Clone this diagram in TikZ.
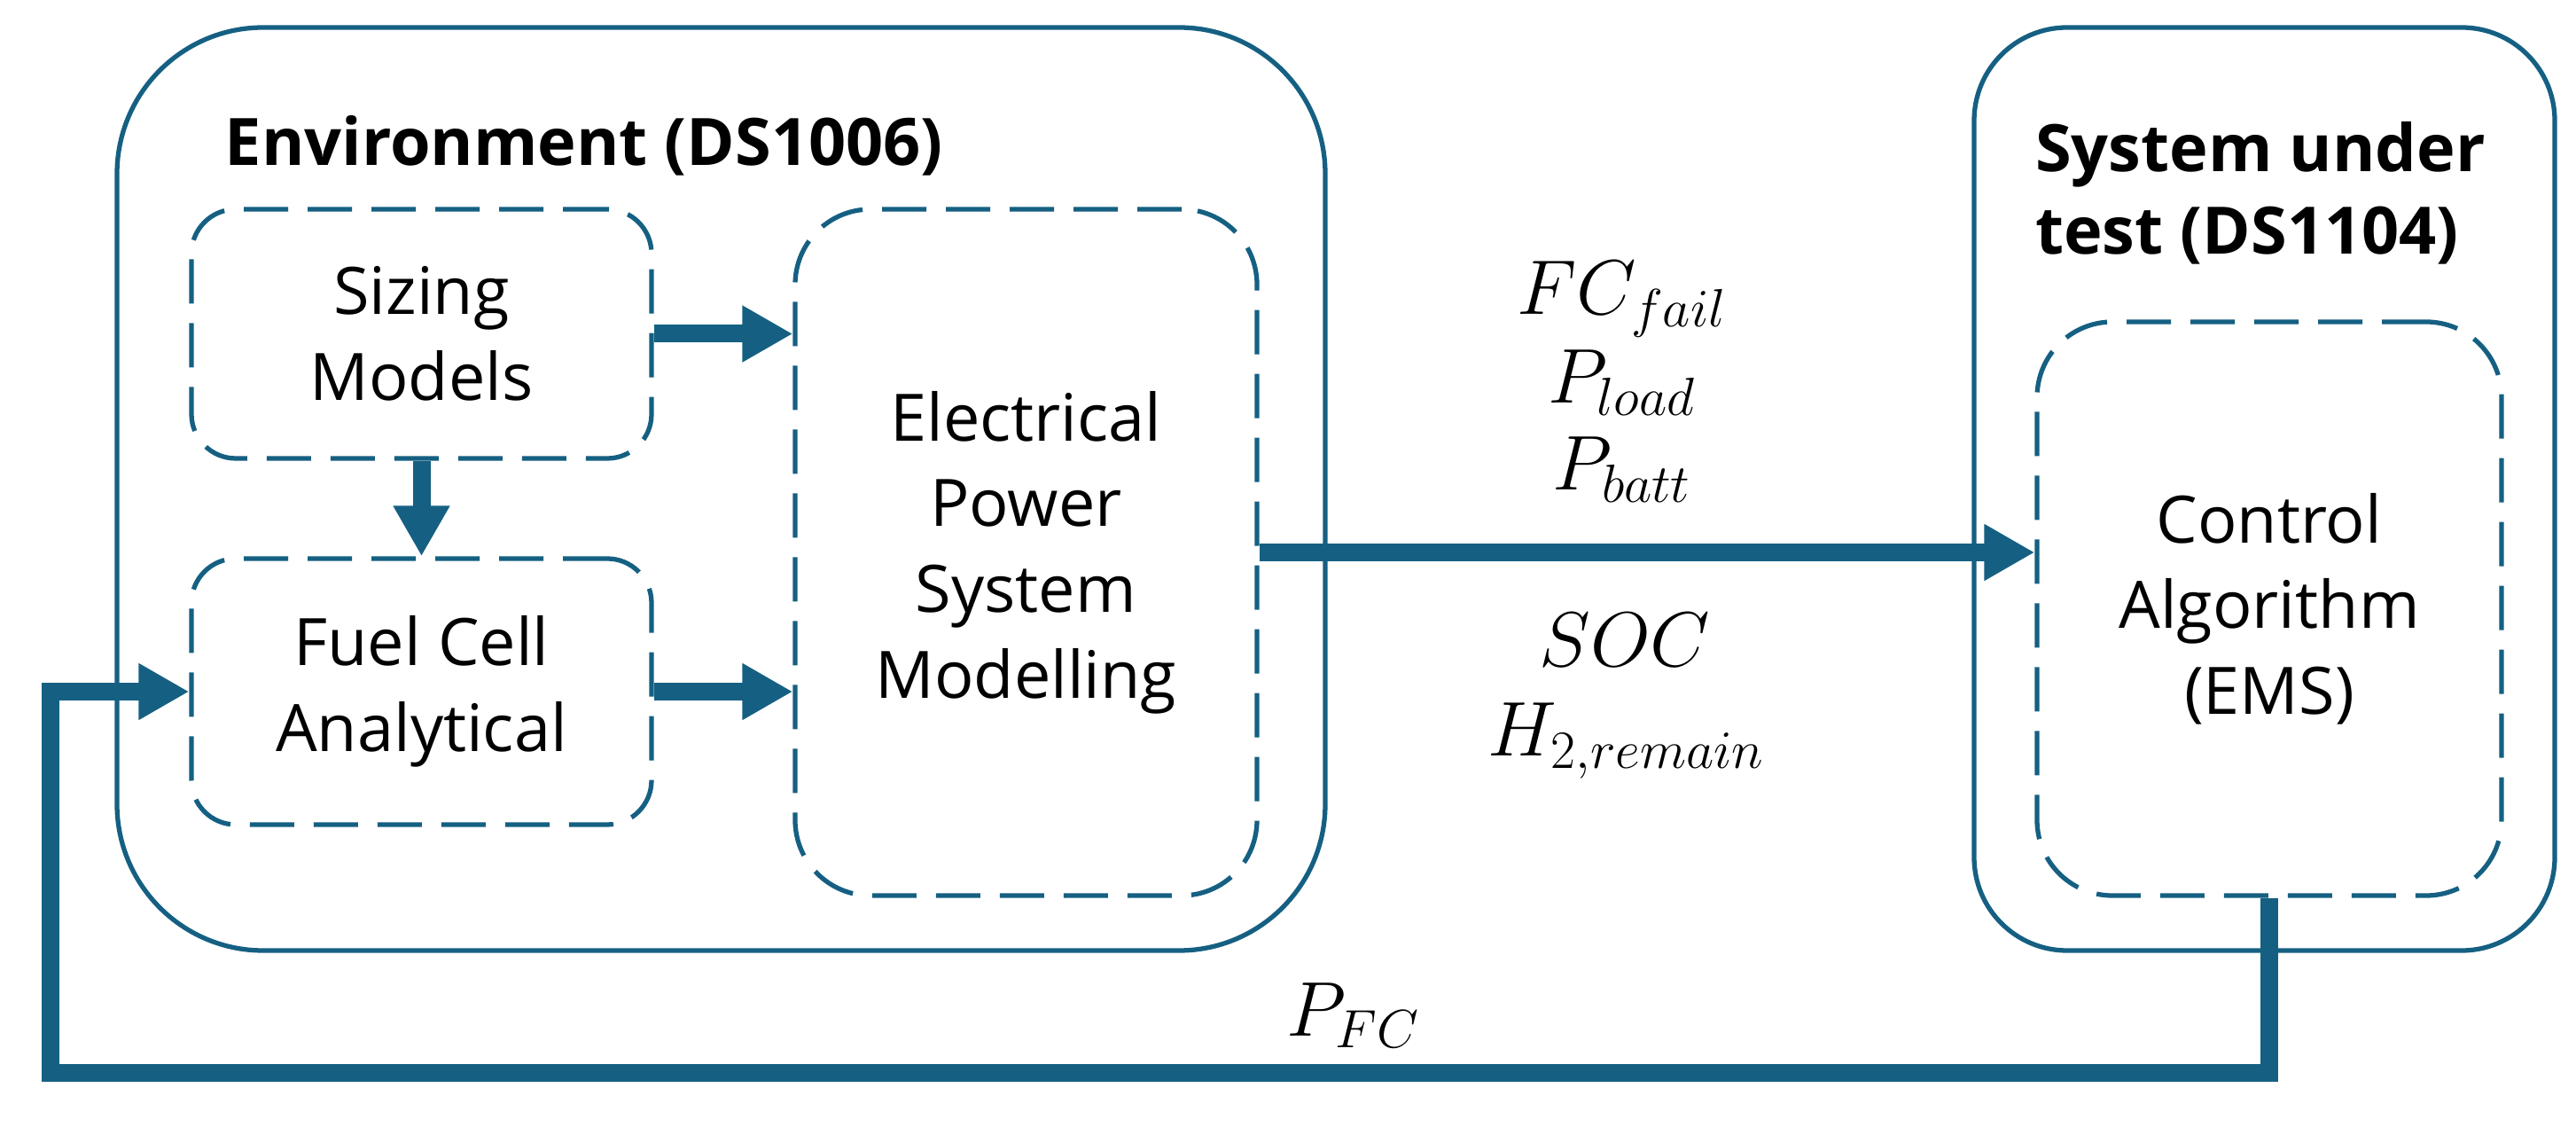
\documentclass[tikz,border=0pt]{standalone}
\usepackage{fontspec}
\setmainfont{Open Sans}
\usetikzlibrary{arrows.meta}
\definecolor{accblue}{HTML}{156082}

\begin{document}
\begin{tikzpicture}[line join=miter,
	txt/.style={font=\fontsize{21}{27.5}\selectfont, align=center, inner sep=0pt},
	title/.style={font=\fontsize{21}{26.5}\selectfont\bfseries, inner sep=0pt},
	outerbox/.style={draw=accblue, line width=1.5pt, rounded corners=#1},
	dashbox/.style={draw=accblue, line width=1.5pt, rounded corners=#1, dash pattern=on 0.5cm off 0.22cm, txt},
	flow/.style={draw=accblue, line width=0.2cm, -{Triangle[length=0.57cm,width=0.6cm]}},
	lbl/.style={font=\fontsize{24}{29}\selectfont, anchor=base, inner sep=0pt}]
	\useasboundingbox (0,0) rectangle (29.06,-12.71);
	% Environment (DS1006)
	\node[outerbox=1.65cm, minimum width=13.63cm, minimum height=10.41cm] (env) at (8.135,-5.515) {};
	\node[title, anchor=base west] (envtitle) at (2.53,-1.87) {Environment (DS1006)};
	\node[dashbox=0.5cm, minimum width=5.19cm, minimum height=2.81cm] (sizing) at (4.755,-3.765) {Sizing\\Models};
	\node[dashbox=0.5cm, minimum width=5.19cm, minimum height=3.0cm] (fuel) at (4.755,-7.80) {Fuel Cell\\Analytical};
	\node[dashbox=0.85cm, minimum width=5.21cm, minimum height=7.74cm] (eps) at (11.575,-6.23) {Electrical\\Power\\System\\Modelling};
	% System under test (DS1104)
	\node[outerbox=1.05cm, minimum width=6.55cm, minimum height=10.41cm] (sut) at (25.545,-5.515) {};
	\node[title, align=left] (suttitle) at (25.50,-2.18) {System under\\test (DS1104)};
	\node[dashbox=0.85cm, minimum width=5.24cm, minimum height=6.47cm] (ctrl) at (25.60,-6.865) {Control\\Algorithm\\(EMS)};
	% connectors
	\draw[flow] (sizing.east) -- (sizing.east -| eps.west);
	\draw[flow] (fuel.east) -- (fuel.east -| eps.west);
	\draw[flow] (sizing.south) -- (fuel.north);
	\draw[flow] (eps.east) -- (eps.east -| ctrl.west);
	\coordinate (fbcorner) at (0.57,-12.10);
	\draw[flow] (ctrl.south) |- (fbcorner) |- (fuel.west);
	% signals
	\node[lbl] (fcfail) at (18.30,-3.55) {$FC_{fail}$};
	\node[lbl] (pload) at (18.30,-4.55) {$P_{load}$};
	\node[lbl] (pbatt) at (18.30,-5.53) {$P_{batt}$};
	\node[lbl] (soc) at (18.33,-7.52) {$SOC$};
	\node[lbl] (hrem) at (18.35,-8.53) {$H_{2,remain}$};
	\node[lbl] (pfc) at (15.27,-11.68) {$P_{FC}$};
\end{tikzpicture}
\end{document}
